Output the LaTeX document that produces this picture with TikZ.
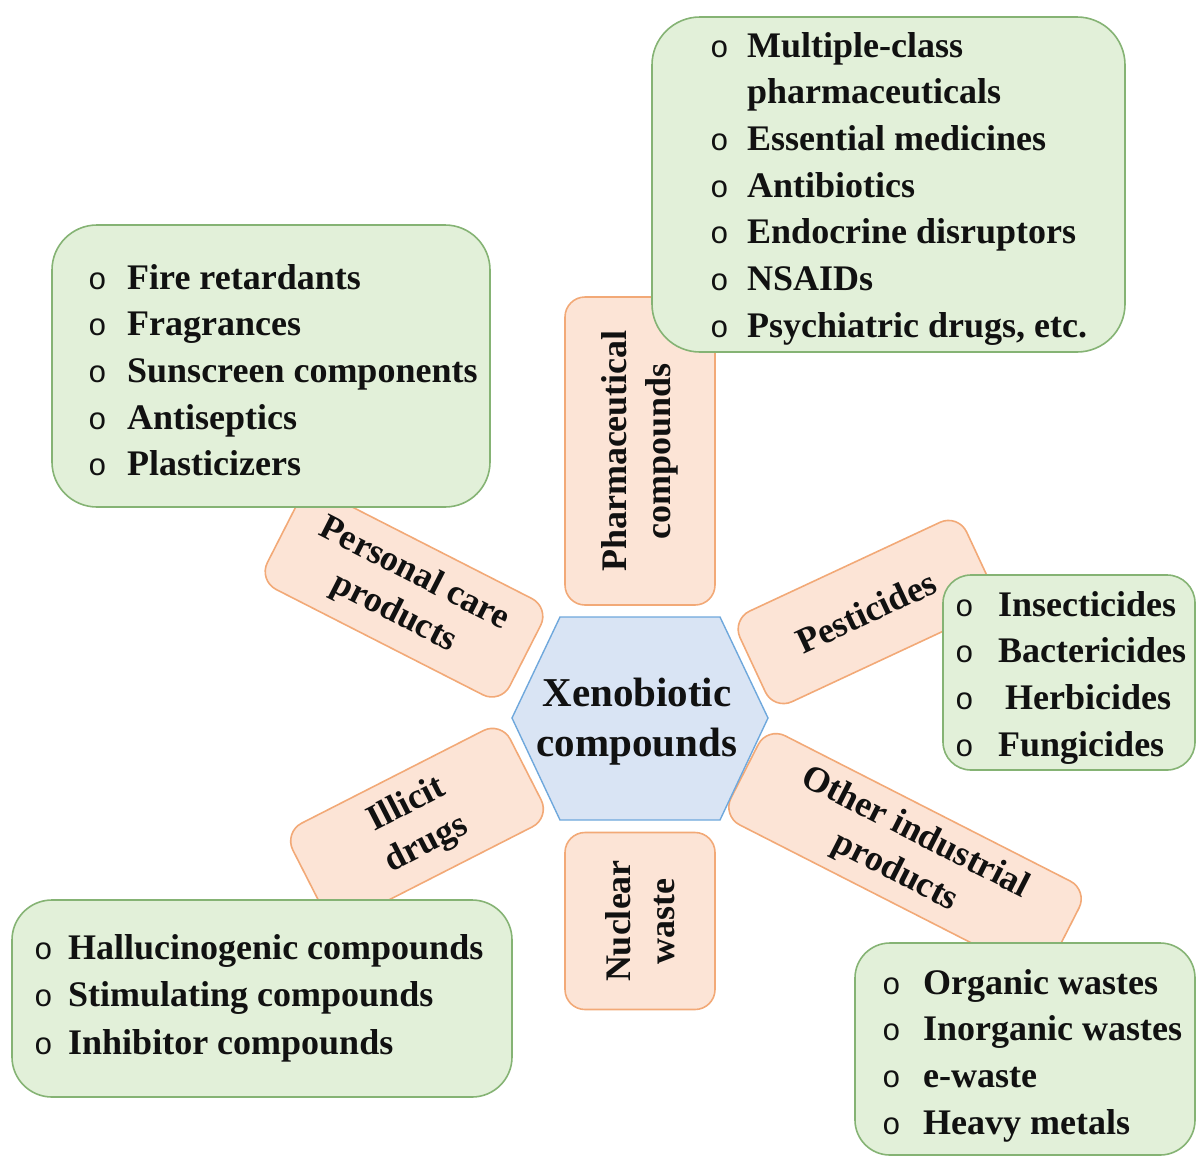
\documentclass[tikz,border=0pt]{standalone}
\usepackage{fontspec}
\setmainfont{Liberation Serif}
\newfontfamily\bulfont{Liberation Mono}
\definecolor{peachfill}{HTML}{FCE4D6}
\definecolor{peachline}{HTML}{F2A977}
\definecolor{greenfill}{HTML}{E2F0D9}
\definecolor{greenline}{HTML}{85B374}
\definecolor{hexfill}{HTML}{D9E4F4}
\definecolor{hexline}{HTML}{6FA8DC}
\definecolor{ink}{HTML}{111111}
\newcommand\bl[1]{\makebox[#1][l]{\fontsize{31}{31}\bulfont\mdseries o}}
\begin{document}
\begin{tikzpicture}[x=1pt,y=-1pt,
  peach/.style={draw=peachline, fill=peachfill, line width=1.6pt, rounded corners=20pt,
    align=center, text=ink, inner sep=0pt,
    font=\fontsize{36}{44}\selectfont\bfseries},
  greenbox/.style={draw=greenline, fill=greenfill, line width=1.6pt, inner sep=0pt},
  listtxt/.style={anchor=base west, inner sep=0pt, text=ink,
    font=\fontsize{36}{46.7}\selectfont\bfseries},
  hexbox/.style={draw=hexline, fill=hexfill, line width=1.4pt},
  centretxt/.style={align=center, inner sep=0pt, text=ink,
    font=\fontsize{41}{50}\selectfont\bfseries}
]
\useasboundingbox (0,0) rectangle (1197,1157);

% peach category boxes
\node[peach, minimum width=308pt, minimum height=150pt, rotate=90] (pharm) at (640,451) {Pharmaceutical\\compounds};
\node[peach, minimum width=177pt, minimum height=150pt, rotate=90] (nuke) at (640,921) {Nuclear\\waste};
\node[peach, minimum width=272pt, minimum height=108pt, rotate=-27] (pcp) at (404,594) {Personal care\\products};
\node[peach, minimum width=250pt, minimum height=100pt, rotate=25] (pest) at (866,612) {Pesticides};
\node[peach, minimum width=244pt, minimum height=108pt, rotate=27] (illicit) at (417,825) {Illicit\\drugs};
\node[peach, minimum width=360pt, minimum height=100pt, rotate=-27] (other) at (905,853) {Other industrial\\products};

% centre hexagon
\draw[hexbox] (512,718) -- (560,617) -- (720,617) -- (768,718) -- (720,820) -- (560,820) -- cycle;
\node[centretxt] (xeno) at (637,722) {Xenobiotic\\compounds};

% green list boxes
\node[greenbox, rounded corners=48pt, minimum width=473pt, minimum height=335pt] (gpharm) at (888.5,184.5) {};
\node[greenbox, rounded corners=45pt, minimum width=438pt, minimum height=282pt] (gpcp) at (271,366) {};
\node[greenbox, rounded corners=28pt, minimum width=252pt, minimum height=195pt] (gpest) at (1069,672.5) {};
\node[greenbox, rounded corners=40pt, minimum width=500pt, minimum height=197pt] (gill) at (262,998.5) {};
\node[greenbox, rounded corners=35pt, minimum width=340pt, minimum height=212pt] (goth) at (1025,1049) {};

% list texts
\node[listtxt] (lpharm) at (710,57) {\begin{tabular}[t]{@{}l@{}l@{}}
\bl{37pt} & Multiple-class\\
 & pharmaceuticals\\
\bl{37pt} & Essential medicines\\
\bl{37pt} & Antibiotics\\
\bl{37pt} & Endocrine disruptors\\
\bl{37pt} & NSAIDs\\
\bl{37pt} & Psychiatric drugs, etc.
\end{tabular}};
\node[listtxt] (lpcp) at (88,289) {\begin{tabular}[t]{@{}l@{}l@{}}
\bl{39pt} & Fire retardants\\
\bl{39pt} & Fragrances\\
\bl{39pt} & Sunscreen components\\
\bl{39pt} & Antiseptics\\
\bl{39pt} & Plasticizers
\end{tabular}};
\node[listtxt] (lpest) at (955,616) {\begin{tabular}[t]{@{}l@{}l@{}}
\bl{43pt} & Insecticides\\
\bl{43pt} & Bactericides\\
\bl{43pt} & \hspace{7pt}Herbicides\\
\bl{43pt} & Fungicides
\end{tabular}};
\node[listtxt] (lill) at (34,959) {\begin{tabular}[t]{@{}l@{}l@{}}
\bl{34pt} & Hallucinogenic compounds\\[0.8pt]
\bl{34pt} & Stimulating compounds\\[0.8pt]
\bl{34pt} & Inhibitor compounds
\end{tabular}};
\node[listtxt] (loth) at (882,994) {\begin{tabular}[t]{@{}l@{}l@{}}
\bl{41pt} & Organic wastes\\
\bl{41pt} & Inorganic wastes\\
\bl{41pt} & e-waste\\
\bl{41pt} & Heavy metals
\end{tabular}};
\end{tikzpicture}
\end{document}
